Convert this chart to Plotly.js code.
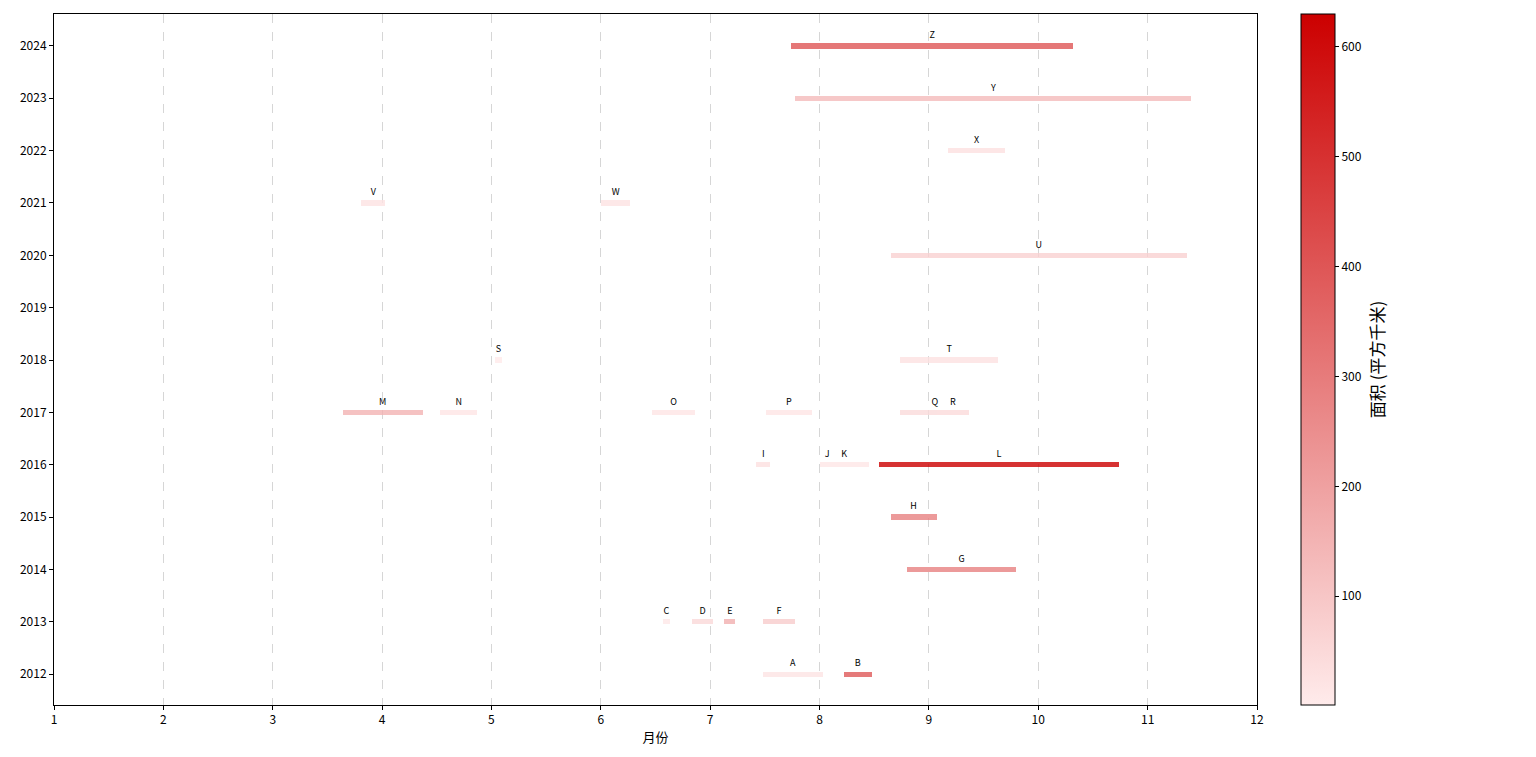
<!DOCTYPE html>
<html>
<head>
<meta charset="utf-8">
<script src="https://cdn.plot.ly/plotly-3.0.1.min.js"></script>
<style>html,body{margin:0;padding:0;background:#fff;}#chart{width:1536px;height:757px;}</style>
</head>
<body>
<div id="chart"></div>
<script>
const names  = ["A","B","C","D","E","F","G","H","I","J","K","L","M","N","O","P","Q","R","S","T","U","V","W","X","Y","Z"];
const years  = [2012,2012,2013,2013,2013,2013,2014,2015,2016,2016,2016,2016,2017,2017,2017,2017,2017,2017,2018,2018,2020,2021,2021,2022,2023,2024];
const startMonth = [7.48,8.22,6.57,6.83,7.13,7.48,8.80,8.65,7.42,8.00,8.00,8.54,3.64,4.53,6.47,7.51,8.74,9.07,5.03,8.74,8.65,3.81,6.00,9.17,7.78,7.74];
const endMonth   = [8.03,8.48,6.63,7.03,7.23,7.78,9.80,9.07,7.55,8.14,8.45,10.74,4.37,4.87,6.86,7.93,9.37,9.37,5.10,9.63,11.36,4.03,6.27,9.70,11.40,10.32];
const areas  = [20,390,8,50,160,85,285,285,30,12,12,630,150,15,15,15,45,40,1,25,70,25,25,30,130,400];
const xTicks = [1,2,3,4,5,6,7,8,9,10,11,12];
const yTicks = [2012,2013,2014,2015,2016,2017,2018,2019,2020,2021,2022,2023,2024];
const cbTicks = [100,200,300,400,500,600];

const durations = endMonth.map((e,i)=>e-startMonth[i]);
const mids = endMonth.map((e,i)=>(e+startMonth[i])/2);
const labelY = years.map(y=>y+0.19);

const font = "Noto Sans CJK SC, DejaVu Sans, sans-serif";

const bars = {
  type: "bar", orientation: "h",
  base: startMonth, x: durations, y: years,
  width: 0.1,
  opacity: 0.8,
  marker: {
    color: areas,
    colorscale: [[0,"#ffebeb"],[1,"#cc0000"]],
    line: {width: 0},
    showscale: true,
    colorbar: {
      x: 1.0366, xanchor: "left", xpad: 0,
      y: 0.5, yanchor: "middle", ypad: 0,
      len: 1, lenmode: "fraction",
      thickness: 34, thicknessmode: "pixels",
      outlinewidth: 1, outlinecolor: "#000",
      tickvals: cbTicks, ticks: "outside", ticklen: 4, tickcolor: "#000",
      tickfont: {family: font, size: 12, color: "#000"},
      title: {text: "面积 (平方千米)", side: "right", font: {family: font, size: 17, color: "#000"}}
    }
  },
  hoverinfo: "skip", showlegend: false
};

const labels = {
  type: "scatter", mode: "text",
  x: mids, y: labelY, text: names,
  textposition: "middle center",
  textfont: {family: font, size: 9, color: "#000"},
  hoverinfo: "skip", showlegend: false
};

const layout = {
  width: 1536, height: 757,
  margin: {l: 54, r: 279, t: 14, b: 52},
  paper_bgcolor: "#fff", plot_bgcolor: "#fff",
  font: {family: font, size: 12, color: "#000"},
  xaxis: {
    range: [1,12], tickvals: xTicks, ticktext: xTicks.map(String),
    showgrid: true, gridcolor: "#d6d6d6", griddash: "dash", gridwidth: 1,
    zeroline: false, showline: true, linecolor: "#000", linewidth: 1, mirror: true,
    ticks: "outside", ticklen: 4, tickcolor: "#000",
    tickfont: {family: font, size: 12, color: "#000"},
    title: {text: "月份", font: {family: font, size: 13, color: "#000"}, standoff: 6}
  },
  yaxis: {
    range: [2011.41, 2024.61], tickvals: yTicks, ticktext: yTicks.map(String),
    showgrid: false, zeroline: false, showline: true, linecolor: "#000", linewidth: 1, mirror: true,
    ticks: "outside", ticklen: 4, tickcolor: "#000",
    tickfont: {family: font, size: 12, color: "#000"}
  },
  bargap: 0
};

Plotly.newPlot("chart", [bars, labels], layout, {displayModeBar: false, staticPlot: true});
</script>
</body>
</html>
